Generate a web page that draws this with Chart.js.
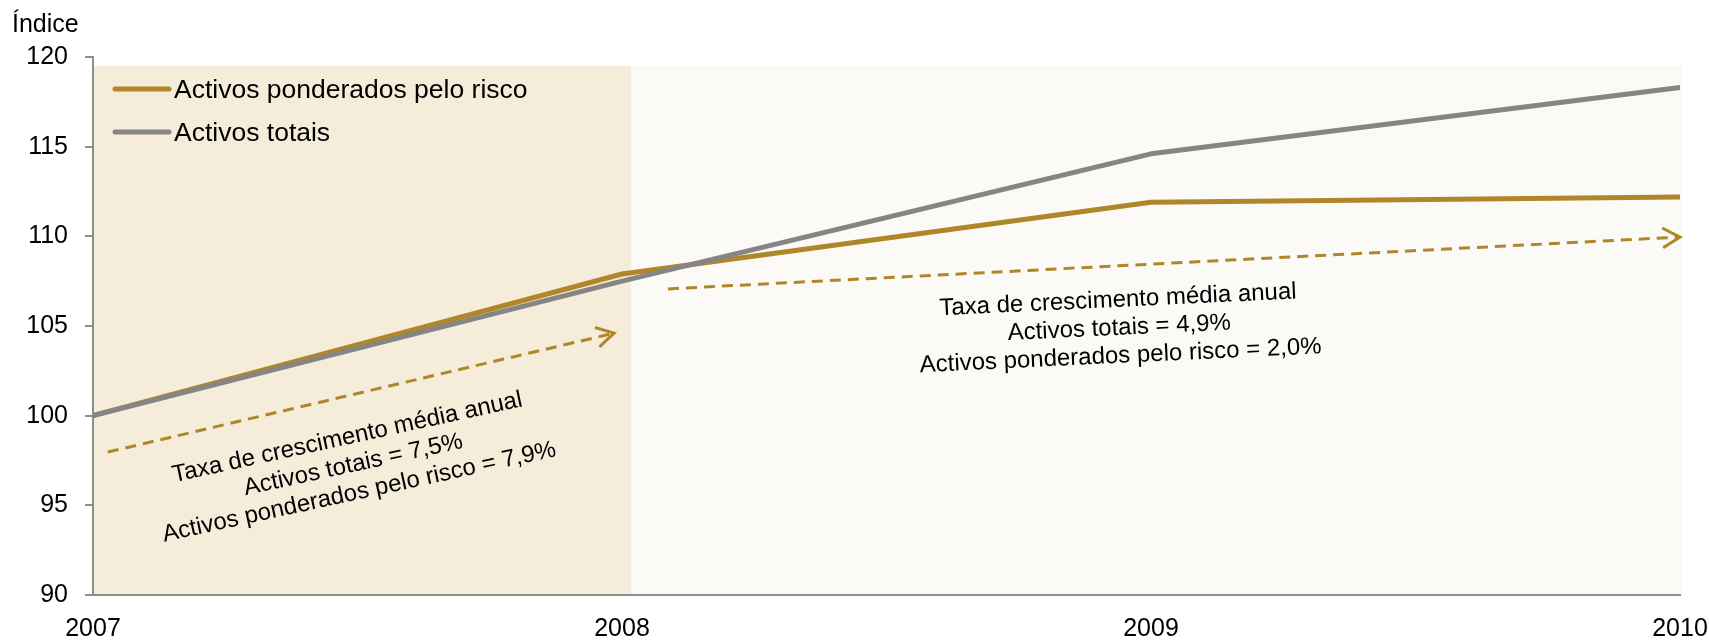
<!DOCTYPE html>
<html><head><meta charset="utf-8">
<script src="https://cdn.jsdelivr.net/npm/chart.js@4.4.0/dist/chart.umd.min.js"></script>
<style>html,body{margin:0;padding:0;background:#fff;}#wrap{width:1709px;height:640px;position:relative;}</style>
</head><body><div id="wrap"><canvas id="c"></canvas></div>
<script>
// ---- data ----
const years = [2007, 2008, 2009, 2010];
const rwaValues = [100, 107.9, 111.9, 112.2];
const totalValues = [100, 107.5, 114.6, 118.3];
const seriesLabels = ['Activos ponderados pelo risco', 'Activos totais'];
const trend1X = [2007.028, 2007.985];
const trend1Y = [97.97, 104.6];
const trend2X = [2008.087, 2010];
const trend2Y = [107.07, 109.96];
const note1Lines = ['Taxa de crescimento média anual', 'Activos totais = 7,5%', 'Activos ponderados pelo risco = 7,9%'];
const note2Lines = ['Taxa de crescimento média anual', 'Activos totais = 4,9%', 'Activos ponderados pelo risco = 2,0%'];
const axisTitle = 'Índice';

// ---- style ----
const FONT = "'Liberation Sans', Arial, sans-serif";
const GOLD = '#B0862A';
const GREY = '#858585';
const AXIS = '#8E8E8E';
const SHADE1 = '#F5ECDA';
const SHADE2 = '#FBFAF6';
const shade = {split: 2008.017, top: 119.5};
const notes = [
  {lines: note1Lines, x: 2007.492, y: 97.25, angle: -12.3},
  {lines: note2Lines, x: 2008.94, y: 104.88, angle: -2.7}
];

const pts = (xs, ys) => xs.map((x, i) => ({x: x, y: ys[i]}));

const bgPlugin = {
  id: 'bg',
  beforeDraw(chart) {
    const {ctx, chartArea: a, scales: {x, y}} = chart;
    const top = y.getPixelForValue(shade.top);
    const xs = x.getPixelForValue(shade.split);
    ctx.save();
    ctx.fillStyle = SHADE1;
    ctx.fillRect(a.left, top, xs - a.left, a.bottom - top);
    ctx.fillStyle = SHADE2;
    ctx.fillRect(xs, top, a.right + 2 - xs, a.bottom - top);
    ctx.fillStyle = '#000';
    ctx.font = '25px ' + FONT;
    ctx.textAlign = 'left';
    ctx.textBaseline = 'middle';
    ctx.fillText(axisTitle, 12, 25);
    ctx.restore();
  }
};

const overlayPlugin = {
  id: 'overlay',
  afterDatasetsDraw(chart) {
    const {ctx, chartArea: a, scales: {x, y}} = chart;
    ctx.save();
    // arrow heads
    chart.data.datasets.forEach(ds => {
      if (!ds.arrow) return;
      const d = ds.data;
      const p1 = {x: x.getPixelForValue(d[d.length - 2].x), y: y.getPixelForValue(d[d.length - 2].y)};
      const p2 = {x: x.getPixelForValue(d[d.length - 1].x), y: y.getPixelForValue(d[d.length - 1].y)};
      const ang = Math.atan2(p2.y - p1.y, p2.x - p1.x);
      const L = 20, w = 0.52;
      ctx.strokeStyle = GOLD; ctx.lineWidth = 3; ctx.setLineDash([]);
      ctx.lineCap = 'butt'; ctx.lineJoin = 'miter';
      ctx.beginPath();
      ctx.moveTo(p2.x - L * Math.cos(ang - w), p2.y - L * Math.sin(ang - w));
      ctx.lineTo(p2.x, p2.y);
      ctx.lineTo(p2.x - L * Math.cos(ang + w), p2.y - L * Math.sin(ang + w));
      ctx.stroke();
    });
    // notes
    ctx.fillStyle = '#000';
    ctx.font = '24px ' + FONT;
    ctx.textAlign = 'center';
    ctx.textBaseline = 'middle';
    notes.forEach(n => {
      ctx.save();
      ctx.translate(x.getPixelForValue(n.x), y.getPixelForValue(n.y));
      ctx.rotate(n.angle * Math.PI / 180);
      n.lines.forEach((t, i) => ctx.fillText(t, 0, (i - 1) * 28));
      ctx.restore();
    });
    // legend
    const mains = chart.data.datasets.filter(ds => ds.main).sort((p, q) => p.legendIndex - q.legendIndex);
    ctx.font = '26.5px ' + FONT;
    ctx.textAlign = 'left';
    mains.forEach((ds, i) => {
      const ly = a.top + 32 + i * 43;
      ctx.strokeStyle = ds.borderColor; ctx.lineWidth = 5; ctx.lineCap = 'round';
      ctx.beginPath(); ctx.moveTo(a.left + 22, ly); ctx.lineTo(a.left + 76, ly); ctx.stroke();
      ctx.fillStyle = '#000';
      ctx.fillText(ds.label, a.left + 81, ly + 1.5);
    });
    ctx.restore();
  }
};

new Chart(document.getElementById('c'), {
  type: 'line',
  data: {
    datasets: [
      {label: seriesLabels[1], main: true, legendIndex: 1, data: pts(years, totalValues), borderColor: GREY, borderWidth: 5, pointRadius: 0, borderCapStyle: 'round', borderJoinStyle: 'round', order: 0},
      {label: seriesLabels[0], main: true, legendIndex: 0, data: pts(years, rwaValues), borderColor: GOLD, borderWidth: 5, pointRadius: 0, borderCapStyle: 'round', borderJoinStyle: 'round', order: 1},
      {label: 'trend1', arrow: true, data: pts(trend1X, trend1Y), borderColor: GOLD, borderWidth: 3, borderDash: [11, 7], pointRadius: 0, order: 2},
      {label: 'trend2', arrow: true, data: pts(trend2X, trend2Y), borderColor: GOLD, borderWidth: 3, borderDash: [11, 7], pointRadius: 0, order: 2}
    ]
  },
  options: {
    responsive: true,
    maintainAspectRatio: false,
    animation: false,
    devicePixelRatio: 1,
    layout: {padding: {top: 57, right: 29, left: 0, bottom: 0}},
    plugins: {legend: {display: false}, tooltip: {enabled: false}},
    scales: {
      x: {
        type: 'linear', min: 2007, max: 2010,
        afterFit(s) { s.height = 45; s.paddingLeft = 0; s.paddingRight = 0; },
        grid: {display: false, drawTicks: false},
        border: {display: true, color: AXIS, width: 2},
        ticks: {stepSize: 1, padding: 19, color: '#000', font: {family: FONT, size: 25}, callback: v => String(v), autoSkip: false, maxRotation: 0}
      },
      y: {
        min: 90, max: 120,
        afterFit(s) { s.width = 93; },
        grid: {display: true, drawOnChartArea: false, drawTicks: true, tickLength: 8, color: AXIS, lineWidth: 2},
        border: {display: true, color: AXIS, width: 2},
        ticks: {stepSize: 5, padding: 17, color: '#000', font: {family: FONT, size: 25}}
      }
    }
  },
  plugins: [bgPlugin, overlayPlugin]
});
</script></body></html>
